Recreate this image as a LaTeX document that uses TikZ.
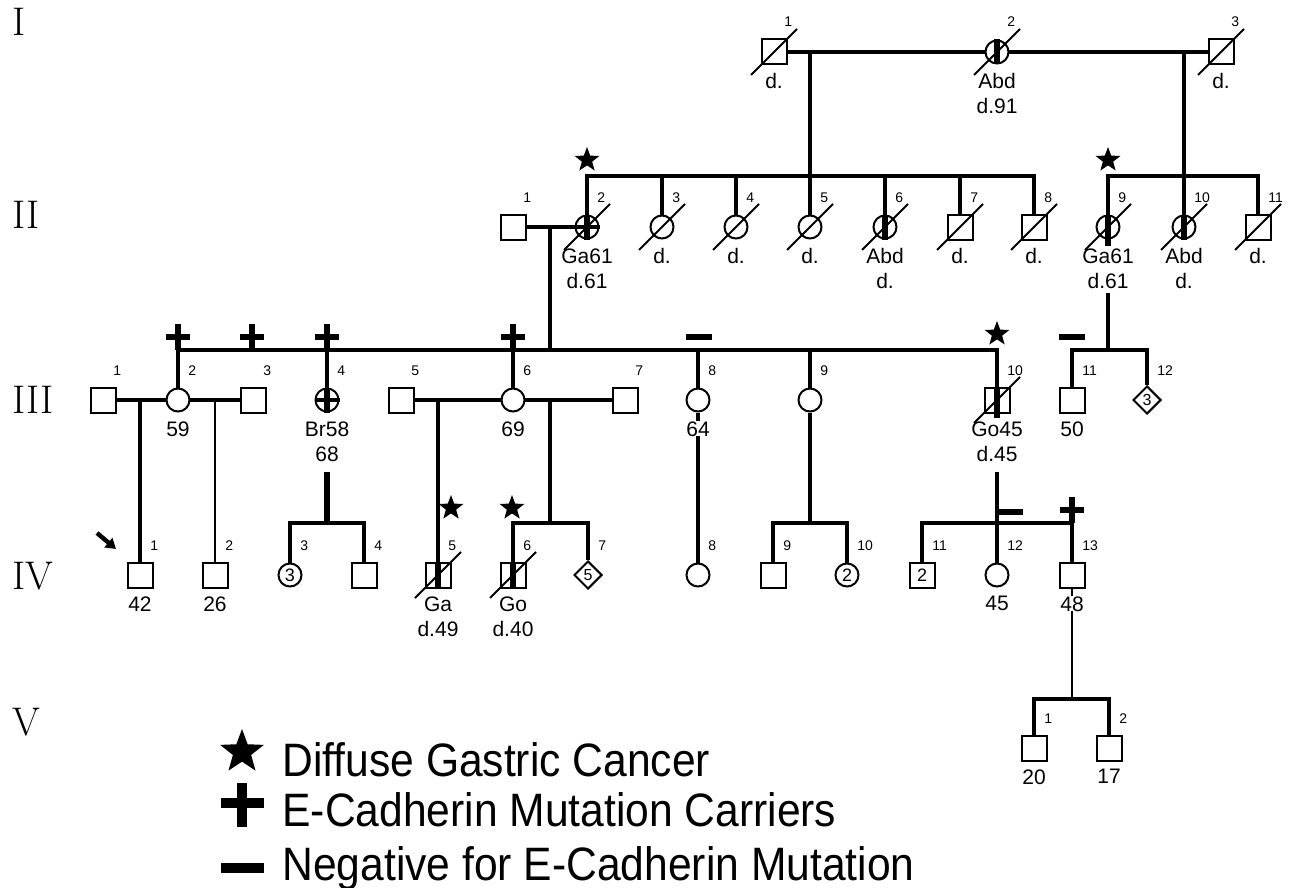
\documentclass[tikz,border=0pt]{standalone}
\usepackage{fontspec}
\setsansfont{Liberation Sans}
\usetikzlibrary{shapes.geometric,arrows.meta,backgrounds}

% helpers for the pedigree symbols
\newcommand{\idno}[2]{\node[idnum] (n#1) at ([shift={(10,-25)}]#1.center) {#2};}
\newcommand{\infotext}[2]{\node[info] (l#1) at ([shift={(0,21)}]#1.center) {#2};}
\newcommand{\deceased}[1]{\draw[slash] ([shift={(-23,23)}]#1.center) -- ([shift={(23,-23)}]#1.center);}
\newcommand{\affbar}[1]{\draw[carrier] (#1.north) -- (#1.south);}
\newcommand{\plusmark}[2]{\draw[sign] (#1,#2-13) -- (#1,#2+13) (#1-12,#2) -- (#1+12,#2);}
\newcommand{\minusmark}[2]{\draw[sign] (#1-13,#2) -- (#1+13,#2);}

\begin{document}
\begin{tikzpicture}[x=0.5pt, y=-0.5pt,
  male/.style={draw, rectangle, minimum size=12.5pt, inner sep=0pt, line width=1pt,
    fill=white, font=\sffamily\fontsize{9}{9}\selectfont},
  female/.style={draw, circle, minimum size=11.5pt, inner sep=0pt, line width=1pt,
    fill=white, font=\sffamily\fontsize{9}{9}\selectfont},
  unknown/.style={draw, diamond, minimum size=14pt, inner sep=0pt, line width=1pt,
    fill=white, font=\sffamily\fontsize{8}{8}\selectfont},
  idnum/.style={anchor=base west, inner sep=0pt, font=\sffamily\fontsize{7}{8}\selectfont},
  info/.style={anchor=north, inner sep=0pt, fill=white, align=center,
    font=\sffamily\fontsize{10.5}{12.5}\selectfont},
  kin/.style={line width=1.6pt},
  carrier/.style={line width=2.6pt},
  slash/.style={line width=1pt},
  sign/.style={line width=2.6pt},
  cancer/.style={star, star points=5, star point ratio=2.4, fill=black, inner sep=0pt,
    minimum size=13pt},
  gen/.style={anchor=west, inner sep=0pt, font=\fontsize{20}{20}\selectfont},
  keytext/.style={anchor=base west, inner sep=0pt, font=\sffamily\fontsize{21.3}{24}\selectfont},
  keysign/.style={line width=4.6pt},
  proband/.style={-{Triangle[length=5pt,width=6pt]}, line width=2.2pt}
]
\useasboundingbox (0,0) rectangle (1290,888);

% generations
\node[gen] (gI) at (12,22) {I};
\node[gen] (gII) at (12,215) {II};
\node[gen] (gIII) at (12,400) {III};
\node[gen] (gIV) at (12,576) {IV};
\node[gen] (gV) at (12,722) {V};

% generation I
\node[male] (I1) at (774,52) {};
\node[female] (I2) at (997,52) {};
\node[male] (I3) at (1221,52) {};

% generation II
\node[male] (II1) at (513,227) {};
\node[female] (II2) at (587,227) {};
\node[female] (II3) at (662,227) {};
\node[female] (II4) at (736,227) {};
\node[female] (II5) at (810,227) {};
\node[female] (II6) at (885,227) {};
\node[male] (II7) at (960,227) {};
\node[male] (II8) at (1034,227) {};
\node[female] (II9) at (1108,227) {};
\node[female] (II10) at (1184,227) {};
\node[male] (II11) at (1258,227) {};

% generation III
\node[male] (III1) at (103,400) {};
\node[female] (III2) at (178,400) {};
\node[male] (III3) at (253,400) {};
\node[female] (III4) at (327,400) {};
\node[male] (III5) at (401,400) {};
\node[female] (III6) at (513,400) {};
\node[male] (III7) at (625,400) {};
\node[female] (III8) at (698,400) {};
\node[female] (III9) at (810,400) {};
\node[male] (III10) at (997,400) {};
\node[male] (III11) at (1072,400) {};
\node[unknown] (III12) at (1147,400) {3};

% generation IV
\node[male] (IV1) at (140,575) {};
\node[male] (IV2) at (215,575) {};
\node[female] (IV3) at (290,575) {3};
\node[male] (IV4) at (364,575) {};
\node[male] (IV5) at (438,575) {};
\node[male] (IV6) at (513,575) {};
\node[unknown] (IV7) at (588,575) {5};
\node[female] (IV8) at (698,575) {};
\node[male] (IV9) at (773,575) {};
\node[female] (IV10) at (847,575) {2};
\node[male] (IV11) at (922,575) {2};
\node[female] (IV12) at (997,575) {};
\node[male] (IV13) at (1072,575) {};

% generation V
\node[male] (V1) at (1034,748) {};
\node[male] (V2) at (1109,748) {};

\coordinate (c1) at (810,52);
\coordinate (c2) at (1184,52);
\coordinate (c3) at (550,227);
\coordinate (m1) at (140,400);
\coordinate (m2) at (215,400);
\coordinate (m3) at (438,400);
\coordinate (m4) at (550,400);
\coordinate (s2) at (810,176);
\coordinate (s3) at (550,350);
\coordinate (s4) at (550,523);
\coordinate (s5) at (1072,699);

\infotext{I1}{d.}
\infotext{I2}{Abd\\d.91}
\infotext{I3}{d.}
\infotext{II2}{Ga61\\d.61}
\infotext{II3}{d.}
\infotext{II4}{d.}
\infotext{II5}{d.}
\infotext{II6}{Abd\\d.}
\infotext{II7}{d.}
\infotext{II8}{d.}
\infotext{II9}{Ga61\\d.61}
\infotext{II10}{Abd\\d.}
\infotext{II11}{d.}
\infotext{III2}{59}
\infotext{III4}{Br58\\68}
\infotext{III6}{69}
\infotext{III8}{64}
\infotext{III10}{Go45\\d.45}
\infotext{III11}{50}
\infotext{IV1}{42}
\infotext{IV2}{26}
\infotext{IV5}{Ga\\d.49}
\infotext{IV6}{Go\\d.40}
\infotext{IV12}{45}
\infotext{IV13}{48}
\infotext{V1}{20}
\infotext{V2}{17}

% lines of descent
\begin{scope}[on background layer]
\draw[kin] (I1) -- (I3);
\draw[kin] (c1) -- (II5);
\draw[kin] (c2) -- (II10);
\draw[kin] (II2) -- (II2 |- s2) -| (II8);
\foreach \n in {3,4,6,7} {\draw[kin] (II\n) -- (II\n |- s2);}
\draw[kin] (II9) -- (II9 |- s2) -| (II11);
\draw[kin] (II1) -- (II2);
\draw[kin] (c3) -- (s3);
\draw[kin] (III2) -- (III2 |- s3) -| (III10);
\foreach \n in {4,6,8,9} {\draw[kin] (III\n) -- (III\n |- s3);}
\draw[kin] ([yshift=-2pt]lII9.south) -- (lII9.south |- s3);
\draw[kin] (III11) -- (III11 |- s3) -| (III12);
\draw[kin] (III1) -- (III3);
\draw[kin] (III5) -- (III7);
\draw[kin] (m1) -- (IV1);
\draw[kin, line width=1.2pt] (m2) -- (IV2);
\draw[kin] (m3) -- (IV5);
\draw[kin] (m4) -- (s4);
\draw[kin] (IV6) -- (IV6 |- s4) -| (IV7);
\draw[carrier] ([yshift=-5pt]lIII4.south) -- (lIII4.south |- s4);
\draw[kin] (IV3) -- (IV3 |- s4) -| (IV4);
\draw[kin] (III8) -- (IV8);
\draw[kin] (III9) -- (III9 |- s4);
\draw[kin] (IV9) -- (IV9 |- s4) -| (IV10);
\draw[kin] ([yshift=-5pt]lIII10.south) -- (lIII10.south |- s4);
\draw[kin] (IV11) -- (IV11 |- s4) -| (IV13);
\draw[kin] (IV12) -- (IV12 |- s4);
\draw[kin, line width=1.2pt] (IV13) -- (s5);
\draw[kin] (V1) -- (V1 |- s5) -| (V2);
\end{scope}

% numbers
\idno{I1}{1} \idno{I2}{2} \idno{I3}{3}
\idno{II1}{1} \idno{II2}{2} \idno{II3}{3} \idno{II4}{4} \idno{II5}{5} \idno{II6}{6}
\idno{II7}{7} \idno{II8}{8} \idno{II9}{9} \idno{II10}{10} \idno{II11}{11}
\idno{III1}{1} \idno{III2}{2} \idno{III3}{3} \idno{III4}{4} \idno{III5}{5} \idno{III6}{6}
\idno{III7}{7} \idno{III8}{8} \idno{III9}{9} \idno{III10}{10} \idno{III11}{11} \idno{III12}{12}
\idno{IV1}{1} \idno{IV2}{2} \idno{IV3}{3} \idno{IV4}{4} \idno{IV5}{5} \idno{IV6}{6} \idno{IV7}{7}
\idno{IV8}{8} \idno{IV9}{9} \idno{IV10}{10} \idno{IV11}{11} \idno{IV12}{12} \idno{IV13}{13}
\idno{V1}{1} \idno{V2}{2}

% deceased
\foreach \p in {I1,I2,I3,II2,II3,II4,II5,II6,II7,II8,II9,II10,II11,III10,IV5,IV6} {\deceased{\p}}

% affected / carrier bars
\affbar{I2} \affbar{II2} \affbar{II6} \affbar{II10} \affbar{III4} \affbar{IV5} \affbar{IV6}
\draw[carrier] (II9.north) -- ([yshift=-3pt]II9.south);
\draw[carrier] (III10.north) -- ([yshift=-2pt]III10.south);
\draw[kin] (II2.west) -- (II2.east);
\draw[kin] (III4.west) -- (III4.east);

% diffuse gastric cancer
\node[cancer] (sII2) at (587,160) {};
\node[cancer] (sII9) at (1108,160) {};
\node[cancer] (sIII10) at (997,334) {};
\node[cancer] (sIV5) at (451,508) {};
\node[cancer] (sIV6) at (512,508) {};

% mutation tests
\plusmark{178}{337}
\plusmark{252}{337}
\plusmark{327}{337}
\plusmark{513}{337}
\minusmark{699}{337}
\minusmark{1072}{337}
\minusmark{1010}{512}
\plusmark{1072}{510}

% proband
\coordinate (pb) at (97,533);
\draw[proband] (pb) -- ([shift={(-24,-26)}]IV1.center);

% legend
\node[cancer, minimum size=23pt] (kstar) at (242,752) {};
\node[keytext] (k1) at (282,776) {\scalebox{1}[1.1]{Diffuse Gastric Cancer}};
\draw[keysign] (242,783) -- (242,827) (221,803) -- (264,803);
\node[keytext] (k2) at (282,826) {\scalebox{1}[1.1]{E-Cadherin Mutation Carriers}};
\draw[line width=5pt] (221,868) -- (264,868);
\node[keytext] (k3) at (282,880) {\scalebox{1}[1.1]{Negative for E-Cadherin Mutation}};
\end{tikzpicture}
\end{document}
